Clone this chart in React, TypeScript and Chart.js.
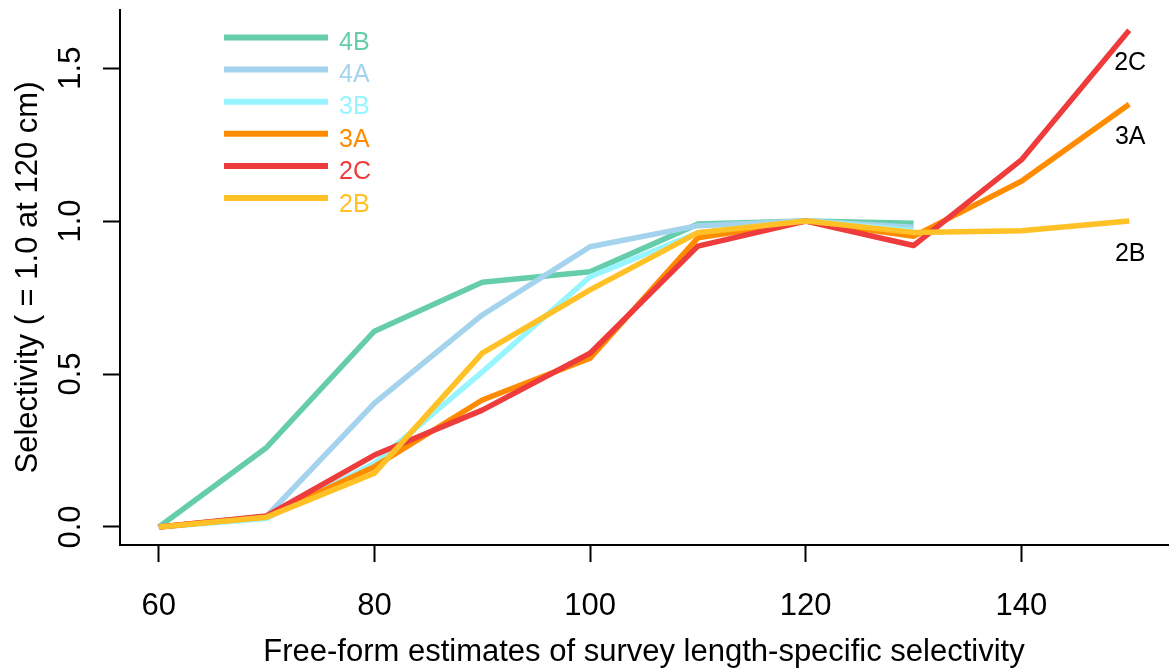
import { useEffect, useRef } from 'react';
import { Chart, registerables } from 'chart.js';

Chart.register(...registerables);

// Fish length (cm) at which selectivity was estimated
const lengths = [60, 70, 80, 90, 100, 110, 120, 130, 140, 150];

// Regulatory areas and their line colours
const areas = ['4B', '4A', '3B', '3A', '2C', '2B'];
const areaColors = ['#66CDAA', '#A4D3EE', '#98F5FF', '#FF8C00', '#EE3B3B', '#FFC125'];

// Selectivity by length for each area (scaled to 1.0 at 120 cm)
const sel4B = [0.0, 0.26, 0.64, 0.8, 0.834, 0.99, 1.0, 0.993, null, null];
const sel4A = [0.0, 0.035, 0.405, 0.693, 0.916, 0.985, 1.0, 0.98, null, null];
const sel3B = [0.0, 0.028, 0.208, 0.507, 0.818, 0.962, 1.0, 0.968, null, null];
const sel3A = [0.0, 0.033, 0.197, 0.415, 0.552, 0.945, 1.0, 0.95, 1.13, 1.382];
const sel2C = [0.0, 0.036, 0.235, 0.382, 0.568, 0.918, 1.0, 0.92, 1.2, 1.624];
const sel2B = [0.0, 0.032, 0.176, 0.568, 0.775, 0.962, 1.0, 0.963, 0.968, 1.0];

const seriesValues = [sel4B, sel4A, sel3B, sel3A, sel2C, sel2B];

// Axis ticks
const xTicks = [60, 80, 100, 120, 140];
const yTicks = [0, 0.5, 1.0, 1.5];

// Areas labelled at the right-hand end of their curve
const endLabelAreas = ['2C', '3A', '2B'];

const FONT = "'Liberation Sans', Arial, Helvetica, sans-serif";

const overlayPlugin = {
  id: 'areaOverlay',
  afterDraw(chart: any) {
    const ctx = chart.ctx;
    const xs = chart.scales.x;
    const ys = chart.scales.y;
    ctx.save();

    // Legend: colour line + coloured area name
    areas.forEach((name, i) => {
      const ly = 37.5 + i * 32.1;
      ctx.strokeStyle = areaColors[i];
      ctx.lineWidth = 6;
      ctx.lineCap = 'butt';
      ctx.beginPath();
      ctx.moveTo(224, ly);
      ctx.lineTo(328, ly);
      ctx.stroke();
      ctx.fillStyle = areaColors[i];
      ctx.font = `25px ${FONT}`;
      ctx.textAlign = 'left';
      ctx.textBaseline = 'middle';
      ctx.fillText(name, 339, 42.8 + i * 32.4);
    });

    // End-of-curve labels just below the last point
    ctx.fillStyle = '#000';
    ctx.font = `25px ${FONT}`;
    ctx.textAlign = 'center';
    ctx.textBaseline = 'middle';
    endLabelAreas.forEach((name) => {
      const idx = areas.indexOf(name);
      const vals = seriesValues[idx];
      let last = vals.length - 1;
      while (last >= 0 && vals[last] == null) last--;
      const px = xs.getPixelForValue(lengths[last]);
      const py = ys.getPixelForValue(vals[last] as number);
      ctx.fillText(name, px + 1, py + 33);
    });

    ctx.restore();
  },
};

export default function App() {
  const canvasRef = useRef<HTMLCanvasElement | null>(null);

  useEffect(() => {
    if (!canvasRef.current) return;

    const datasets = areas.map((name, i) => ({
      label: name,
      data: lengths.map((x, j) => ({ x, y: seriesValues[i][j] })),
      borderColor: areaColors[i],
      backgroundColor: areaColors[i],
      borderWidth: 5.5,
      borderCapStyle: 'butt' as const,
      borderJoinStyle: 'round' as const,
      pointRadius: 0,
      tension: 0,
      fill: false,
      spanGaps: false,
      order: areas.length - 1 - i,
    }));

    const chart = new Chart(canvasRef.current, {
      type: 'line',
      data: { datasets },
      options: {
        animation: false,
        responsive: false,
        devicePixelRatio: 1,
        layout: { padding: { top: 10, right: 7, left: 0, bottom: 0 } },
        plugins: {
          legend: { display: false },
          tooltip: { enabled: false },
        },
        scales: {
          x: {
            type: 'linear',
            min: 56.4,
            max: 153.6,
            afterBuildTicks: (s: any) => {
              s.ticks = xTicks.map((v) => ({ value: v }));
            },
            afterFit: (s: any) => {
              s.height = 126;
              s.paddingLeft = 0;
              s.paddingRight = 0;
              s.paddingTop = 0;
              s.paddingBottom = 0;
            },
            grid: {
              drawOnChartArea: false,
              drawTicks: true,
              tickLength: 17,
              tickColor: '#000',
              tickWidth: 2,
            },
            border: { display: true, color: '#000', width: 2 },
            ticks: {
              color: '#000',
              font: { family: FONT, size: 31 },
              padding: 26,
              autoSkip: false,
              maxRotation: 0,
              minRotation: 0,
              callback: (v: any) => String(v),
            },
            title: {
              display: true,
              text: 'Free-form estimates of survey length-specific selectivity',
              color: '#000',
              font: { family: FONT, size: 31 },
              padding: { top: 0, bottom: 0 },
            },
          },
          y: {
            type: 'linear',
            min: -0.059,
            max: 1.69,
            afterBuildTicks: (s: any) => {
              s.ticks = yTicks.map((v) => ({ value: v }));
            },
            afterFit: (s: any) => {
              s.width = 120;
              s.paddingLeft = 0;
              s.paddingRight = 0;
              s.paddingTop = 0;
              s.paddingBottom = 0;
            },
            grid: {
              drawOnChartArea: false,
              drawTicks: true,
              tickLength: 17,
              tickColor: '#000',
              tickWidth: 2,
            },
            border: { display: true, color: '#000', width: 2 },
            ticks: {
              color: '#000',
              font: { family: FONT, size: 31 },
              padding: 10,
              autoSkip: false,
              minRotation: 90,
              maxRotation: 90,
              crossAlign: 'center',
              callback: (v: any) => Number(v).toFixed(1),
            },
            title: {
              display: true,
              text: 'Selectivity ( = 1.0 at 120 cm)',
              color: '#000',
              font: { family: FONT, size: 31 },
              padding: { top: 10, bottom: 0 },
            },
          },
        },
      },
      plugins: [overlayPlugin],
    });

    return () => chart.destroy();
  }, []);

  return (
    <canvas
      ref={canvasRef}
      width={1175}
      height={671}
      style={{ position: 'absolute', left: 0, top: 0, display: 'block', background: '#fff' }}
    />
  );
}
